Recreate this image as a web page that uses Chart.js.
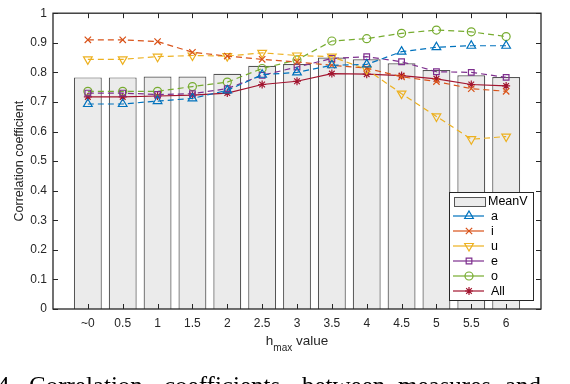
<!DOCTYPE html>
<html>
<head>
<meta charset="utf-8">
<script src="https://cdn.jsdelivr.net/npm/chart.js@4/dist/chart.umd.min.js"></script>
<style>
  html, body { margin: 0; padding: 0; background: #fff; }
  #wrap { width: 570px; height: 384px; position: relative; }
</style>
</head>
<body>
<div id="wrap"><canvas id="corrChart" width="570" height="384"></canvas></div>
<script>
// h_max categories and values
const categories = ['~0', '0.5', '1', '1.5', '2', '2.5', '3', '3.5', '4', '4.5', '5', '5.5', '6'];
const meanV = [0.783, 0.783, 0.786, 0.786, 0.795, 0.822, 0.828, 0.850, 0.844, 0.831, 0.808, 0.790, 0.784];
const seriesA = [0.693, 0.693, 0.703, 0.712, 0.739, 0.792, 0.800, 0.824, 0.827, 0.870, 0.885, 0.890, 0.890];
const seriesI = [0.910, 0.910, 0.904, 0.868, 0.855, 0.844, 0.835, 0.824, 0.814, 0.785, 0.769, 0.745, 0.736];
const seriesU = [0.844, 0.844, 0.853, 0.857, 0.855, 0.866, 0.857, 0.853, 0.810, 0.728, 0.651, 0.574, 0.583];
const seriesE = [0.730, 0.730, 0.725, 0.728, 0.745, 0.790, 0.818, 0.847, 0.853, 0.836, 0.802, 0.800, 0.783];
const seriesO = [0.736, 0.736, 0.736, 0.752, 0.767, 0.813, 0.842, 0.906, 0.914, 0.932, 0.943, 0.937, 0.921];
const seriesAll = [0.717, 0.717, 0.720, 0.723, 0.730, 0.759, 0.770, 0.796, 0.794, 0.789, 0.778, 0.759, 0.754];
const yTicks = [0, 0.1, 0.2, 0.3, 0.4, 0.5, 0.6, 0.7, 0.8, 0.9, 1];

const axisColor = '#262626';
const font = '"Liberation Sans", Arial, Helvetica, sans-serif';

function toPoints(values) {
    return values.map((v, i) => ({ x: i, y: v }));
}

function lineSet(label, values, color, style, radius, dashed, rotation) {
    return {
        type: 'line',
        label: label,
        data: toPoints(values),
        borderColor: color,
        borderWidth: 1.2,
        borderDash: dashed ? [6, 4] : [],
        pointStyle: style,
        pointRadius: radius,
        pointRotation: rotation || 0,
        pointBorderColor: color,
        pointBackgroundColor: 'rgba(0,0,0,0)',
        pointBorderWidth: 1.2,
        fill: false,
        tension: 0,
        order: 1
    };
}

// box, inward ticks, x title with subscript, caption, legend
const figurePlugin = {
    id: 'figure',
    afterDraw(chart) {
        const ctx = chart.ctx;
        const area = chart.chartArea;
        const xs = chart.scales.x;
        const ys = chart.scales.y;
        ctx.save();

        // legend
        const lx = 449, ly = 192, lw = 84, lh = 108;
        ctx.fillStyle = '#fff';
        ctx.fillRect(lx, ly, lw, lh);
        ctx.strokeStyle = axisColor;
        ctx.lineWidth = 1;
        ctx.strokeRect(lx + 0.5, ly + 0.5, lw, lh);
        ctx.font = '12.5px ' + font;
        ctx.textBaseline = 'middle';
        ctx.textAlign = 'left';
        // MeanV swatch
        ctx.fillStyle = '#EBEBEB';
        ctx.fillRect(454, 197, 31, 9);
        ctx.strokeStyle = '#555';
        ctx.strokeRect(454.5, 197.5, 31, 9);
        ctx.fillStyle = '#000';
        ctx.fillText('MeanV', 488, 202);
        const lines = chart.data.datasets.filter(d => d.type === 'line');
        lines.forEach((d, k) => {
            const y = 216 + k * 15;
            ctx.strokeStyle = d.borderColor;
            ctx.lineWidth = d.borderWidth;
            ctx.beginPath();
            ctx.moveTo(453, y);
            ctx.lineTo(484, y);
            ctx.stroke();
            ctx.fillStyle = 'rgba(0,0,0,0)';
            Chart.helpers.drawPoint(ctx, {
                pointStyle: d.pointStyle,
                rotation: d.pointRotation,
                radius: d.pointRadius,
                borderWidth: d.pointBorderWidth
            }, 469, y);
            ctx.fillStyle = '#000';
            ctx.fillText(d.label, 491, y + 1);
        });

        // box and inward ticks
        ctx.strokeStyle = axisColor;
        ctx.lineWidth = 1.3;
        ctx.setLineDash([]);
        ctx.strokeRect(area.left, area.top, area.right - area.left, area.bottom - area.top);
        ctx.lineWidth = 1;
        ctx.beginPath();
        categories.forEach((c, i) => {
            const x = Math.round(xs.getPixelForValue(i)) + 0.5;
            ctx.moveTo(x, area.bottom); ctx.lineTo(x, area.bottom - 5);
            ctx.moveTo(x, area.top); ctx.lineTo(x, area.top + 5);
        });
        yTicks.forEach(v => {
            const y = Math.round(ys.getPixelForValue(v)) + 0.5;
            ctx.moveTo(area.left, y); ctx.lineTo(area.left + 5, y);
            ctx.moveTo(area.right, y); ctx.lineTo(area.right - 5, y);
        });
        ctx.stroke();

        // x title: h_max value
        ctx.fillStyle = axisColor;
        ctx.textBaseline = 'alphabetic';
        ctx.font = '13.5px ' + font;
        const wH = ctx.measureText('h').width;
        const wV = ctx.measureText(' value').width;
        ctx.font = '10px ' + font;
        const wM = ctx.measureText('max').width;
        const cx = (area.left + area.right) / 2;
        let x0 = cx - (wH + wM + wV) / 2;
        ctx.font = '13.5px ' + font;
        ctx.fillText('h', x0, 345);
        ctx.font = '10px ' + font;
        ctx.fillText('max', x0 + wH, 351);
        ctx.font = '13.5px ' + font;
        ctx.fillText(' value', x0 + wH + wM, 345);

        // figure caption, cut by the bottom edge
        ctx.fillStyle = '#000';
        ctx.font = '25px "Liberation Serif", "Times New Roman", serif';
        const words = [['4.', -3], ['Correlation', 29], ['coefficients', 164], ['between', 302], ['measures', 398], ['and', 505]];
        words.forEach(w => ctx.fillText(w[0], w[1], 394));

        ctx.restore();
    }
};

const ctx = document.getElementById('corrChart').getContext('2d');
const corrChart = new Chart(ctx, {
    type: 'bar',
    data: {
        datasets: [
            {
                type: 'bar',
                label: 'MeanV',
                data: toPoints(meanV),
                backgroundColor: '#EBEBEB',
                borderColor: '#555555',
                borderWidth: 1.2,
                categoryPercentage: 1.0,
                barPercentage: 0.8,
                order: 10
            },
            lineSet('a', seriesA, '#0072BD', 'triangle', 5, true, 0),
            lineSet('i', seriesI, '#D95319', 'crossRot', 4.5, true, 0),
            lineSet('u', seriesU, '#EDB120', 'triangle', 5, true, 180),
            lineSet('e', seriesE, '#7E2F8E', 'rect', 4, true, 0),
            lineSet('o', seriesO, '#77AC30', 'circle', 4, true, 0),
            lineSet('All', seriesAll, '#A2142F', 'star', 4, false, 0)
        ]
    },
    options: {
        responsive: false,
        animation: false,
        layout: {
            padding: { left: 0, right: 29, top: 6, bottom: 0 }
        },
        scales: {
            x: {
                type: 'linear',
                min: -1,
                max: 13,
                offset: false,
                grid: { display: false, drawTicks: false },
                border: { display: false },
                afterBuildTicks: function(scale) {
                    scale.ticks = categories.map((c, i) => ({ value: i }));
                },
                afterFit: function(scale) {
                    scale.height = 75;
                },
                ticks: {
                    autoSkip: false,
                    maxRotation: 0,
                    padding: 7,
                    color: axisColor,
                    font: { family: font, size: 12 },
                    callback: function(value) {
                        return categories[value];
                    }
                }
            },
            y: {
                min: 0,
                max: 1,
                grid: { display: false, drawTicks: false },
                border: { display: false },
                afterBuildTicks: function(scale) {
                    scale.ticks = yTicks.map(v => ({ value: v }));
                },
                afterFit: function(scale) {
                    scale.width = 53;
                },
                ticks: {
                    padding: 6,
                    color: axisColor,
                    font: { family: font, size: 12 },
                    callback: function(value) {
                        return String(+value.toFixed(1));
                    }
                },
                title: {
                    display: true,
                    text: 'Correlation coefficient',
                    color: axisColor,
                    font: { family: font, size: 12.5 },
                    padding: { top: 12, bottom: 0 }
                }
            }
        },
        plugins: {
            legend: { display: false },
            tooltip: { enabled: false }
        }
    },
    plugins: [figurePlugin]
});
</script>
</body>
</html>
